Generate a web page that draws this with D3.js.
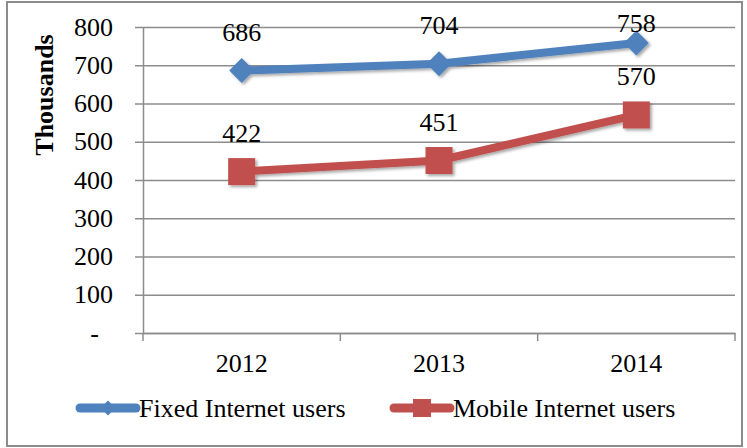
<!DOCTYPE html>
<html>
<head>
<meta charset="utf-8">
<script src="https://cdn.jsdelivr.net/npm/d3@7/dist/d3.min.js"></script>
<style>
  html, body { margin: 0; padding: 0; background: #fff; }
  svg { display: block; }
  text { font-family: "Liberation Serif", "Times New Roman", serif; fill: #000; }
</style>
</head>
<body>
<script>
// Internet users in thousands, by year
const years = ["2012", "2013", "2014"];
const fixedUsers = [686, 704, 758];
const mobileUsers = [422, 451, 570];
const yTicks = [0, 100, 200, 300, 400, 500, 600, 700, 800];
const seriesNames = ["Fixed Internet users", "Mobile Internet users"];
const seriesColors = ["#4F81BD", "#C0504D"];

const W = 747, H = 448;
const FS = 26;
const plot = { left: 143, right: 735, top: 27, bottom: 333 };

const svg = d3.select("body").append("svg").attr("width", W).attr("height", H);

const defs = svg.append("defs");
const shadow = defs.append("filter").attr("id", "shadow")
  .attr("x", "-30%").attr("y", "-30%").attr("width", "160%").attr("height", "160%");
shadow.append("feDropShadow").attr("dx", 2).attr("dy", 2).attr("stdDeviation", 1.6)
  .attr("flood-color", "#000").attr("flood-opacity", 0.35);

// outer frame
svg.append("rect").attr("x", 7).attr("y", 2).attr("width", 735).attr("height", 444)
  .attr("fill", "none").attr("stroke", "#8c8c8c").attr("stroke-width", 2);

const x = d3.scaleBand().domain(years).range([plot.left, plot.right]);
const y = d3.scaleLinear().domain([0, 800]).range([plot.bottom, plot.top]);

// horizontal gridlines with left tick marks
const yAxis = d3.axisLeft(y).tickValues(yTicks)
  .tickSize(-(plot.right - plot.left)).tickSizeOuter(0).tickPadding(0)
  .tickFormat(() => "");
const gy = svg.append("g").attr("transform", `translate(${plot.left},0)`).call(yAxis);
gy.select(".domain").attr("stroke", "#8c8c8c").attr("stroke-width", 1.5);
gy.selectAll(".tick line").attr("stroke", "#8c8c8c").attr("stroke-width", 1.5)
  .attr("x1", -8);

// y tick labels
svg.append("g").selectAll("text").data(yTicks).join("text")
  .attr("x", d => d === 0 ? 99 : 113)
  .attr("y", d => y(d))
  .attr("dy", "0.33em")
  .attr("text-anchor", "end")
  .attr("font-size", FS)
  .text(d => d === 0 ? "-" : d3.format("d")(d));

// x axis with category boundary ticks
const xAxis = d3.axisBottom(x).tickSize(0).tickFormat(d => d);
const gx = svg.append("g").attr("transform", `translate(0,${plot.bottom})`).call(xAxis);
gx.select(".domain").attr("stroke", "#8c8c8c").attr("stroke-width", 1.5);
gx.selectAll(".tick text").attr("font-size", FS).attr("dy", 0).attr("y", 39)
  .style("font-family", "Liberation Serif, serif");
const bounds = years.map(d => x(d)).concat([plot.right]);
gx.selectAll(".bound").data(bounds).join("line").attr("class", "bound")
  .attr("x1", d => d).attr("x2", d => d).attr("y1", 0).attr("y2", 8)
  .attr("stroke", "#8c8c8c").attr("stroke-width", 1.5);

// axis title
svg.append("text")
  .attr("transform", "translate(53,95) rotate(-90)")
  .attr("text-anchor", "middle")
  .attr("font-size", FS).attr("font-weight", "bold")
  .text("Thousands");

const cx = d => x(d) + x.bandwidth() / 2;
const line = d3.line().x(d => cx(d.year)).y(d => y(d.value));

const series = [fixedUsers, mobileUsers].map((vals, i) => ({
  name: seriesNames[i],
  color: seriesColors[i],
  points: years.map((yr, j) => ({ year: yr, value: vals[j] }))
}));

const diamond = s => `M0,${-s}L${s},0L0,${s}L${-s},0Z`;
const square = s => `M${-s},${-s}H${s}V${s}H${-s}Z`;
const shapes = [diamond, square];
const markerSizes = [12.5, 13.5];

series.forEach((s, i) => {
  const g = svg.append("g").attr("filter", "url(#shadow)");
  g.append("path").datum(s.points).attr("d", line)
    .attr("fill", "none").attr("stroke", s.color).attr("stroke-width", 8)
    .attr("stroke-linejoin", "round");
  g.selectAll("path.mk").data(s.points).join("path").attr("class", "mk")
    .attr("transform", d => `translate(${cx(d.year)},${y(d.value)})`)
    .attr("d", shapes[i](markerSizes[i]))
    .attr("fill", s.color);
  // value labels sit above each point, kept inside the frame
  svg.append("g").selectAll("text").data(s.points).join("text")
    .attr("x", d => cx(d.year)).attr("y", d => Math.max(y(d.value) - 29.5, 32))
    .attr("text-anchor", "middle").attr("font-size", FS)
    .text(d => d.value);
});

// legend
const legendItems = [
  { x0: 80, x1: 136, tx: 139 },
  { x0: 394, x1: 450, tx: 453 }
];
const legendY = 408;
const legendSizes = [7.5, 9];
series.forEach((s, i) => {
  const L = legendItems[i];
  svg.append("line").attr("x1", L.x0).attr("x2", L.x1).attr("y1", legendY).attr("y2", legendY)
    .attr("stroke", s.color).attr("stroke-width", 9).attr("stroke-linecap", "round");
  svg.append("path").attr("transform", `translate(${(L.x0 + L.x1) / 2},${legendY})`)
    .attr("d", shapes[i](legendSizes[i])).attr("fill", s.color);
  svg.append("text").attr("x", L.tx).attr("y", legendY).attr("dy", "0.33em")
    .attr("font-size", FS).text(s.name);
});
</script>
</body>
</html>
